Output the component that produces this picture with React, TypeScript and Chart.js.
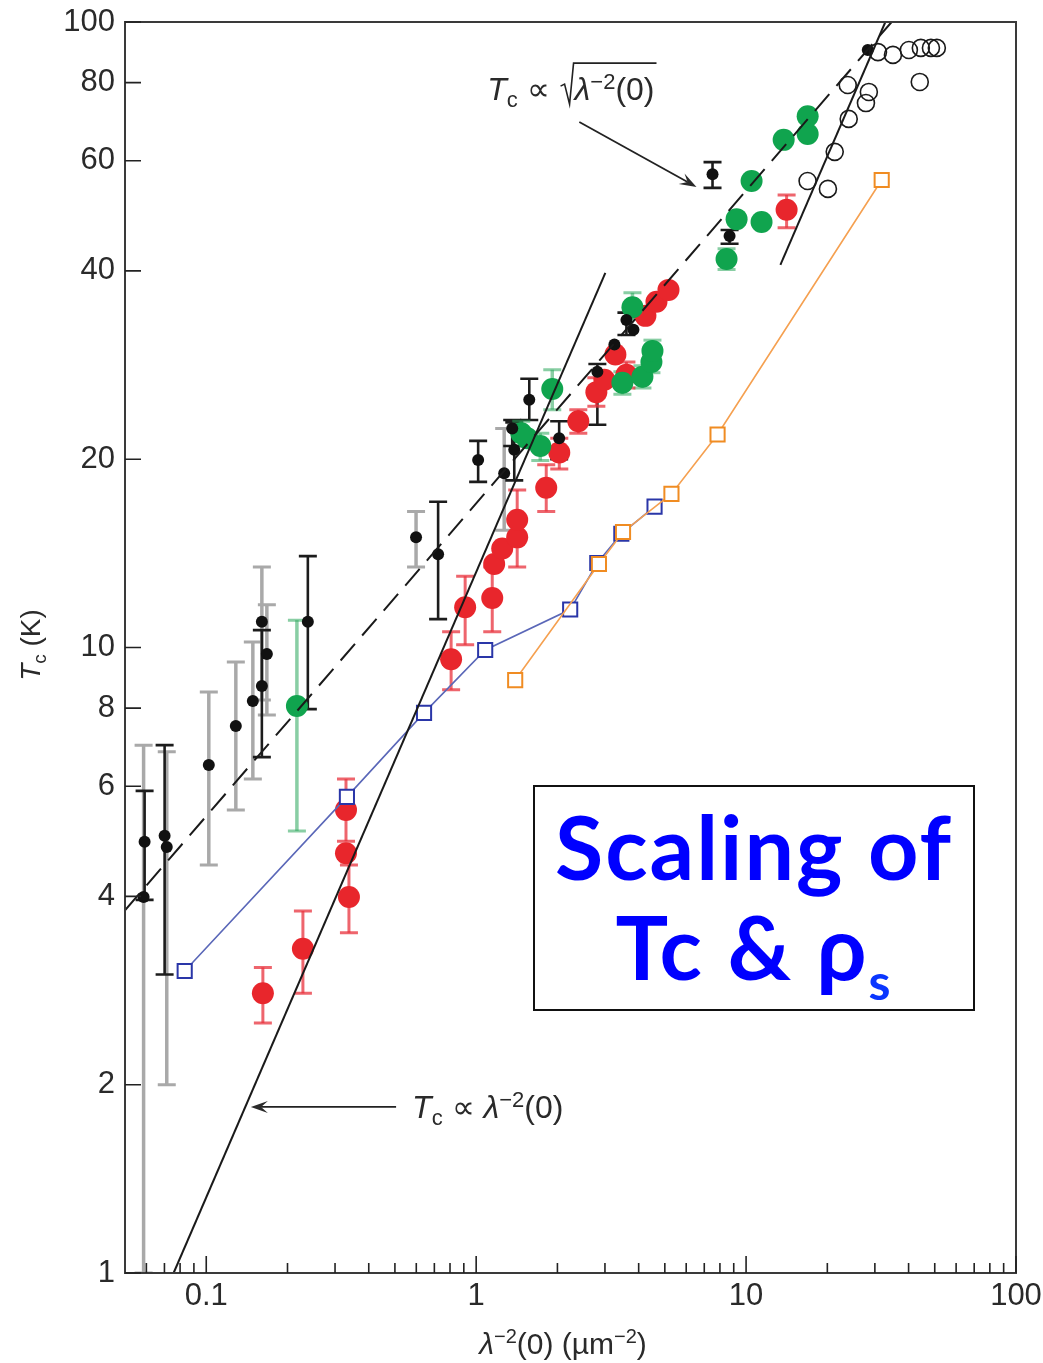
import React, { useEffect, useRef } from 'react';
import { Chart, registerables } from 'chart.js';

Chart.register(...registerables);

// ---------- data (x = λ^-2(0) in µm^-2, y = Tc in K) ----------
const blackX = [0.0591, 0.0701, 0.1607, 0.2379, 0.7228, 1.017, 1.36, 1.384, 1.573, 2.03, 2.812, 3.252, 3.603, 3.826, 7.51, 8.686, 28.24];
const blackY = [4.89, 5.0, 8.68, 10.99, 14.1, 19.95, 22.4, 20.7, 24.9, 21.6, 27.6, 30.5, 33.4, 32.2, 57.1, 45.5, 90.2];
const blackLo = [3.95, 3.0, 6.68, 7.97, 11.1, 18.4, 21.0, 18.5, 23.1, 20.0, 22.7, null, 31.6, null, 54.3, 44.2, null];
const blackHi = [5.9, 6.98, 10.66, 14.0, 17.1, 21.4, 23.1, 22.9, 26.9, 23.0, 28.4, null, 34.3, null, 59.7, 46.5, null];

const grayX = [0.0586, 0.0714, 0.1022, 0.1287, 0.1488, 0.1607, 0.1677, 0.5988, 1.27];
const grayY = [3.99, 4.8, 6.49, 7.49, 8.21, 10.99, 9.76, 15.0, 19.0];
const grayLo = [1.0, 2.0, 4.49, 5.5, 6.16, 8.24, 7.8, 13.45, 15.4];
const grayHi = [6.98, 6.81, 8.49, 9.48, 10.2, 13.45, 11.7, 16.5, 22.4];

const greenX = [0.2167, 1.469, 1.546, 1.728, 1.914, 3.481, 3.793, 4.13, 4.46, 4.499, 8.465, 9.221, 10.48, 11.41, 13.78, 16.91, 16.91];
const greenY = [8.06, 22.0, 21.6, 21.0, 25.9, 26.5, 35.0, 27.1, 28.6, 29.8, 41.8, 48.4, 55.7, 47.9, 64.8, 66.2, 70.7];
const greenLo = [5.09, 21.0, null, 19.9, 24.0, 25.4, 33.5, 26.0, 27.5, null, 40.2, null, null, null, null, null, null];
const greenHi = [11.06, 23.0, null, 22.0, 27.8, 27.6, 36.9, 28.2, null, 31.0, 43.4, null, null, null, null, null, null];

const redX = [0.1621, 0.2281, 0.3294, 0.3294, 0.3378, 0.8076, 0.9103, 1.147, 1.166, 1.249, 1.419, 1.419, 1.818, 2.032, 2.39, 2.788, 2.985, 3.28, 3.603, 4.237, 4.656, 5.158, 14.13];
const redY = [2.8, 3.3, 5.5, 4.69, 3.99, 9.58, 11.6, 12.0, 13.6, 14.4, 15.0, 16.0, 18.0, 20.5, 23.0, 25.6, 26.8, 29.4, 27.3, 33.9, 35.7, 37.3, 50.1];
const redLo = [2.51, 2.8, 4.9, null, 3.5, 8.56, 10.1, 10.6, null, null, 13.45, null, 16.5, 19.3, 22.0, 24.3, null, null, 26.0, null, null, null, 46.9];
const redHi = [3.08, 3.79, 6.16, null, 4.49, 10.6, 13.0, 13.45, null, null, 17.85, null, 19.6, 21.6, 24.0, 27.0, null, null, 28.6, null, null, null, 52.9];

const openX = [23.8, 28.5, 27.8, 24.0, 21.3, 16.9, 20.1, 30.8, 35.0, 40.1, 44.4, 48.4, 50.9, 44.0];
const openY = [79.3, 77.3, 74.2, 70.0, 62.0, 55.7, 54.1, 89.5, 88.6, 90.2, 90.9, 90.9, 90.9, 80.2];

const blueX = [0.0832, 0.332, 0.641, 1.08, 2.23, 2.81, 3.45, 4.58];
const blueY = [3.04, 5.77, 7.86, 9.91, 11.5, 13.65, 15.2, 16.8];

const orangeX = [1.395, 2.85, 3.5, 5.29, 7.84, 31.8];
const orangeY = [8.87, 13.6, 15.3, 17.6, 21.9, 55.9];

// guide lines: Tc ∝ sqrt(λ^-2) (dashed) and Tc ∝ λ^-2 (solid)
const sqrtLineX = [0.05, 34.6];
const sqrtLineY = [3.8, 100];
const linLineX = [0.0757, 3.01];
const linLineY = [1.0, 39.7];
const lin2LineX = [13.4, 32.8];
const lin2LineY = [40.9, 100];

// ticks
const yTicks = [1, 2, 4, 6, 8, 10, 20, 40, 60, 80, 100];
const xMajorTicks = [0.1, 1, 10, 100];
const xMinorTicks = [0.06, 0.07, 0.08, 0.09, 0.2, 0.3, 0.4, 0.5, 0.6, 0.7, 0.8, 0.9, 2, 3, 4, 5, 6, 7, 8, 9, 20, 30, 40, 50, 60, 70, 80, 90];

// annotation anchors (data coordinates)
const arrow1 = { from: [2.411, 69.2], to: [6.55, 54.5] };
const label1At = [1.099, 75.0];
const arrow2 = { from: [0.505, 1.843], to: [0.1463, 1.843] };
const label2At = [0.579, 1.769];

const FONT = "'Liberation Sans', Arial, sans-serif";
const TEXT = '#2a2a2a';

const pts = (xs: number[], ys: number[]) => xs.map((x, i) => ({ x, y: ys[i] }));

type Part = { t: string; it?: boolean; sup?: boolean; sub?: boolean };

function partFont(p: Part, size: number) {
  const s = p.sup || p.sub ? Math.round(size * 0.68) : size;
  return `${p.it ? 'italic ' : ''}${s}px ${FONT}`;
}

function drawRich(ctx: CanvasRenderingContext2D, parts: Part[], x: number, y: number, size: number, align: 'left' | 'center') {
  let total = 0;
  for (const p of parts) {
    ctx.font = partFont(p, size);
    total += ctx.measureText(p.t).width;
  }
  let cx = align === 'center' ? x - total / 2 : x;
  const marks: number[] = [];
  ctx.textAlign = 'left';
  ctx.textBaseline = 'alphabetic';
  for (const p of parts) {
    ctx.font = partFont(p, size);
    const dy = p.sup ? -size * 0.36 : p.sub ? size * 0.22 : 0;
    marks.push(cx);
    ctx.fillText(p.t, cx, y + dy);
    cx += ctx.measureText(p.t).width;
  }
  marks.push(cx);
  return marks;
}

function arrow(ctx: CanvasRenderingContext2D, x1: number, y1: number, x2: number, y2: number) {
  const ang = Math.atan2(y2 - y1, x2 - x1);
  const L = 17, W = 6;
  ctx.beginPath();
  ctx.moveTo(x1, y1);
  ctx.lineTo(x2 - Math.cos(ang) * L * 0.6, y2 - Math.sin(ang) * L * 0.6);
  ctx.stroke();
  ctx.beginPath();
  ctx.moveTo(x2, y2);
  ctx.lineTo(x2 - Math.cos(ang) * L - Math.sin(ang) * W, y2 - Math.sin(ang) * L + Math.cos(ang) * W);
  ctx.lineTo(x2 - Math.cos(ang) * L * 0.6, y2 - Math.sin(ang) * L * 0.6);
  ctx.lineTo(x2 - Math.cos(ang) * L + Math.sin(ang) * W, y2 - Math.sin(ang) * L - Math.cos(ang) * W);
  ctx.closePath();
  ctx.fill();
}

const errorBars = {
  id: 'errorBars',
  beforeDatasetsDraw(chart: any) {
    const { ctx, chartArea: a } = chart;
    const xs = chart.scales.x, ys = chart.scales.y;
    ctx.save();
    ctx.beginPath();
    ctx.rect(a.left, a.top, a.right - a.left, a.bottom - a.top);
    ctx.clip();
    chart.data.datasets.forEach((ds: any) => {
      if (!ds.errLo) return;
      ctx.strokeStyle = ds.errColor;
      ctx.lineWidth = ds.errWidth;
      ds.data.forEach((p: any, i: number) => {
        const lo = ds.errLo[i], hi = ds.errHi[i];
        if (lo == null && hi == null) return;
        const px = xs.getPixelForValue(p.x);
        const py = ys.getPixelForValue(p.y);
        const y1 = lo == null ? py : ys.getPixelForValue(lo);
        const y2 = hi == null ? py : ys.getPixelForValue(hi);
        const c = ds.capHalf;
        ctx.beginPath();
        ctx.moveTo(px, y1);
        ctx.lineTo(px, y2);
        ctx.stroke();
        ctx.lineWidth = ds.capWidth;
        ctx.beginPath();
        if (lo != null) { ctx.moveTo(px - c, y1); ctx.lineTo(px + c, y1); }
        if (hi != null) { ctx.moveTo(px - c, y2); ctx.lineTo(px + c, y2); }
        ctx.stroke();
        ctx.lineWidth = ds.errWidth;
      });
    });
    ctx.restore();
  },
};

const decorations = {
  id: 'decorations',
  afterDraw(chart: any) {
    const { ctx, chartArea: a } = chart;
    const xs = chart.scales.x, ys = chart.scales.y;
    ctx.save();
    // frame
    ctx.strokeStyle = '#3a3a3a';
    ctx.lineWidth = 2;
    ctx.strokeRect(a.left, a.top, a.right - a.left, a.bottom - a.top);
    // inward ticks
    ctx.lineWidth = 1.6;
    ctx.strokeStyle = '#222';
    ctx.beginPath();
    for (const v of xMinorTicks) {
      const px = xs.getPixelForValue(v);
      ctx.moveTo(px, a.bottom); ctx.lineTo(px, a.bottom - 10);
    }
    for (const v of xMajorTicks) {
      const px = xs.getPixelForValue(v);
      ctx.moveTo(px, a.bottom); ctx.lineTo(px, a.bottom - 17);
    }
    for (const v of yTicks) {
      const py = ys.getPixelForValue(v);
      ctx.moveTo(a.left, py); ctx.lineTo(a.left + 16, py);
    }
    ctx.stroke();

    ctx.fillStyle = TEXT;
    ctx.strokeStyle = '#222';
    ctx.lineWidth = 1.6;
    // y title
    ctx.save();
    ctx.translate(40, 645);
    ctx.rotate(-Math.PI / 2);
    drawRich(ctx, [{ t: 'T', it: true }, { t: 'c', sub: true }, { t: ' (K)' }], 0, 0, 28, 'center');
    ctx.restore();
    // x title
    drawRich(ctx, [{ t: 'λ', it: true }, { t: '−2', sup: true }, { t: '(0) (µm' }, { t: '−2', sup: true }, { t: ')' }], 563, 1354, 30, 'center');

    // annotation 1: Tc ∝ sqrt(λ^-2(0))
    const l1x = xs.getPixelForValue(label1At[0]);
    const l1y = ys.getPixelForValue(label1At[1]);
    const m = drawRich(ctx, [{ t: 'T', it: true }, { t: 'c', sub: true }, { t: ' ∝ ' }], l1x, l1y, 32, 'left');
    const rx = m[m.length - 1] + 2;
    const m2 = drawRich(ctx, [{ t: 'λ', it: true }, { t: '−2', sup: true }, { t: '(0)' }], rx + 14, l1y, 32, 'left');
    const endX = m2[m2.length - 1] + 2;
    ctx.beginPath();
    ctx.moveTo(rx, l1y - 14);
    ctx.lineTo(rx + 4, l1y - 16);
    ctx.lineTo(rx + 9, l1y + 4);
    ctx.lineTo(rx + 13, l1y - 37);
    ctx.lineTo(endX, l1y - 37);
    ctx.stroke();
    ctx.lineWidth = 1.8;
    arrow(ctx, xs.getPixelForValue(arrow1.from[0]), ys.getPixelForValue(arrow1.from[1]), xs.getPixelForValue(arrow1.to[0]), ys.getPixelForValue(arrow1.to[1]));

    // annotation 2: Tc ∝ λ^-2(0)
    drawRich(ctx, [{ t: 'T', it: true }, { t: 'c', sub: true }, { t: ' ∝ ' }, { t: 'λ', it: true }, { t: '−2', sup: true }, { t: '(0)' }],
      xs.getPixelForValue(label2At[0]), ys.getPixelForValue(label2At[1]), 32, 'left');
    arrow(ctx, xs.getPixelForValue(arrow2.from[0]), ys.getPixelForValue(arrow2.from[1]), xs.getPixelForValue(arrow2.to[0]), ys.getPixelForValue(arrow2.to[1]));
    ctx.restore();
  },
};

export default function App() {
  const ref = useRef<HTMLCanvasElement>(null);

  useEffect(() => {
    if (!ref.current) return;
    const lineDs = (xs: number[], ys: number[], extra: any) => ({
      data: pts(xs, ys), showLine: true, pointRadius: 0, borderColor: '#1a1a1a', borderWidth: 2, fill: false, ...extra,
    });
    const chart = new Chart(ref.current, {
      type: 'scatter',
      data: {
        datasets: [
          lineDs(sqrtLineX, sqrtLineY, { label: 'Tc ∝ sqrt(λ^-2)', borderDash: [22, 11] }),
          lineDs(linLineX, linLineY, { label: 'Tc ∝ λ^-2' }),
          lineDs(lin2LineX, lin2LineY, { label: 'Tc ∝ λ^-2 (overdoped)' }),
          {
            label: 'orange', data: pts(orangeX, orangeY), showLine: true, borderColor: '#f5a050', borderWidth: 1.6,
            pointStyle: 'rect', pointRadius: 10, pointBorderColor: '#f08c22', pointBackgroundColor: '#ffffff', pointBorderWidth: 2,
          },
          {
            label: 'blue', data: pts(blueX, blueY), showLine: true, borderColor: '#5a67b8', borderWidth: 1.6,
            pointStyle: 'rect', pointRadius: 10, pointBorderColor: '#2a36a8', pointBackgroundColor: '#ffffff', pointBorderWidth: 2,
          },
          {
            label: 'open', data: pts(openX, openY), pointRadius: 8.5, pointBackgroundColor: 'rgba(0,0,0,0)',
            pointBorderColor: '#1a1a1a', pointBorderWidth: 1.6,
          },
          {
            label: 'black (gray bars)', data: pts(grayX, grayY), pointRadius: 6, pointBackgroundColor: '#111', pointBorderWidth: 0,
            errLo: grayLo, errHi: grayHi, errColor: '#a9a9a9', errWidth: 3.5, capWidth: 3, capHalf: 9,
          },
          {
            label: 'black', data: pts(blackX, blackY), pointRadius: 6, pointBackgroundColor: '#111', pointBorderWidth: 0,
            errLo: blackLo, errHi: blackHi, errColor: '#1c1c1c', errWidth: 2.6, capWidth: 2.6, capHalf: 9,
          },
          {
            label: 'green', data: pts(greenX, greenY), pointRadius: 11, pointBackgroundColor: '#10a44e', pointBorderWidth: 0,
            errLo: greenLo, errHi: greenHi, errColor: 'rgba(40,165,90,0.55)', errWidth: 3.5, capWidth: 3, capHalf: 9,
          },
          {
            label: 'red', data: pts(redX, redY), pointRadius: 11, pointBackgroundColor: '#e8262c', pointBorderWidth: 0,
            errLo: redLo, errHi: redHi, errColor: 'rgba(232,50,60,0.75)', errWidth: 3, capWidth: 3, capHalf: 9,
          },
        ] as any,
      },
      options: {
        responsive: false,
        animation: false,
        devicePixelRatio: 1,
        layout: { padding: { top: 22, right: 27, left: 0, bottom: 0 } },
        plugins: { legend: { display: false }, tooltip: { enabled: false }, title: { display: false } },
        scales: {
          x: {
            type: 'logarithmic', min: 0.05, max: 100, position: 'bottom',
            afterFit: (s: any) => { s.height = 90; s.paddingLeft = 0; s.paddingRight = 0; },
            afterBuildTicks: (s: any) => { s.ticks = [...xMinorTicks, ...xMajorTicks].sort((p, q) => p - q).map((v) => ({ value: v })); },
            ticks: {
              autoSkip: false, maxRotation: 0, minRotation: 0, padding: 5, color: TEXT,
              font: { family: FONT, size: 31 },
              callback: (v: any) => (xMajorTicks.includes(Number(v)) ? String(v) : ''),
            },
            grid: { display: false, drawTicks: false },
            border: { display: false },
          },
          y: {
            type: 'logarithmic', min: 1, max: 100, position: 'left',
            afterFit: (s: any) => { s.width = 125; s.paddingTop = 0; s.paddingBottom = 0; },
            afterBuildTicks: (s: any) => { s.ticks = yTicks.map((v) => ({ value: v })); },
            ticks: {
              autoSkip: false, padding: 10, color: TEXT,
              font: { family: FONT, size: 31 },
              callback: (v: any) => String(v),
            },
            grid: { display: false, drawTicks: false },
            border: { display: false },
          },
        },
      } as any,
      plugins: [errorBars, decorations],
    });
    return () => chart.destroy();
  }, []);

  return (
    <div style={{ position: 'absolute', left: 0, top: 0, width: 1043, height: 1363, background: '#fff', overflow: 'hidden' }}>
      <canvas ref={ref} width={1043} height={1363} style={{ position: 'absolute', left: 0, top: 0, width: 1043, height: 1363 }} />
      <div
        style={{
          position: 'absolute', left: 533, top: 785, width: 442, height: 226, boxSizing: 'border-box',
          border: '2px solid #111', background: '#fff', color: '#0000ff',
          fontFamily: "Lato, 'Open Sans', sans-serif", fontWeight: 'bold', textAlign: 'center',
        }}
      >
        <div style={{ position: 'absolute', left: 0, right: 0, top: 15, fontSize: 88, lineHeight: 1, letterSpacing: 2, whiteSpace: 'nowrap' }}>
          Scaling of
        </div>
        <div style={{ position: 'absolute', left: 0, right: 0, top: 115, fontSize: 88, lineHeight: 1, letterSpacing: 2, whiteSpace: 'nowrap' }}>
          Tc &amp; ρ<span style={{ fontSize: 50, position: 'relative', top: 20, color: '#0a36ff' }}>s</span>
        </div>
      </div>
    </div>
  );
}
